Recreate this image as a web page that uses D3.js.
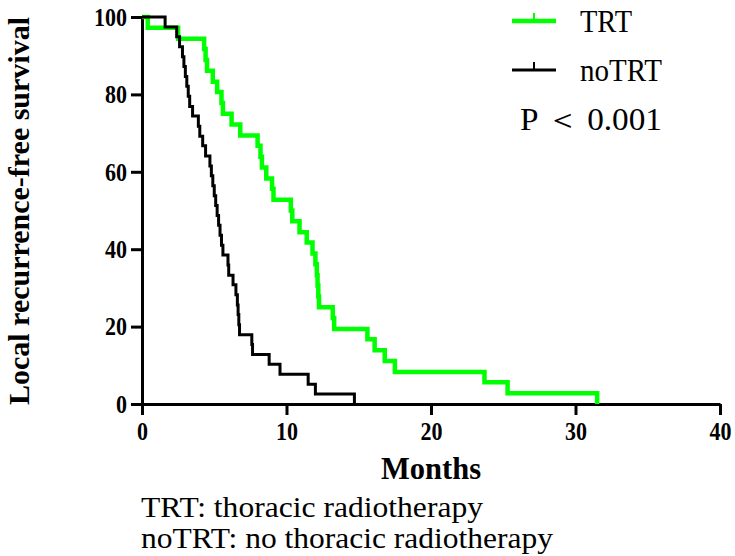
<!DOCTYPE html>
<html>
<head>
<meta charset="utf-8">
<script src="https://cdn.jsdelivr.net/npm/d3@7"></script>
<style>
  body { margin: 0; background: #fff; }
  svg text { font-family: "Liberation Serif", "Times New Roman", Tinos, serif; }
</style>
</head>
<body>
<svg id="chart" width="735" height="556"></svg>
<script>
// Kaplan-Meier steps: time of event (months) and survival (%) after it
const trtTimes = [0, 0.4, 2.5, 4.3, 4.4, 4.5, 4.9, 5.2, 5.5, 5.6, 6.2, 6.8, 8.0, 8.2, 8.3, 8.6, 9.0, 9.1,
  10.3, 10.4, 10.9, 11.4, 11.8, 12.0, 12.1, 12.15, 12.2, 12.25, 13.2, 13.3, 15.6, 16.1, 16.8, 17.5, 23.7, 25.3, 31.5];
const trtSurv = [100, 97.2, 94.4, 91.7, 88.9, 86.1, 83.3, 80.6, 77.8, 75.0, 72.2, 69.4, 66.7, 63.9, 61.1, 58.3, 55.6, 52.8,
  50.0, 47.2, 44.4, 41.7, 38.9, 36.1, 33.3, 30.6, 27.8, 25.0, 22.2, 19.4, 16.7, 13.9, 11.1, 8.3, 5.6, 2.8, 0];

const noTrtTimes = [0, 1.6, 2.4, 2.6, 2.8, 2.9, 3.0, 3.1, 3.2, 3.3, 3.5, 3.9, 4.0, 4.2, 4.4, 4.7, 4.8, 4.9, 5.0, 5.1,
  5.2, 5.3, 5.4, 5.5, 5.6, 5.95, 6.0, 6.3, 6.5, 6.6, 6.65, 6.7, 6.75, 7.6, 7.65, 8.8, 9.55, 11.5, 12.0, 14.7];
const noTrtSurv = [100, 97.4, 94.9, 92.3, 89.7, 87.2, 84.6, 82.1, 79.5, 76.9, 74.4, 71.8, 69.2, 66.7, 64.1, 61.5, 59.0, 56.4, 53.8, 51.3,
  48.7, 46.2, 43.6, 41.0, 38.5, 35.9, 33.3, 30.8, 28.2, 25.6, 23.1, 20.5, 17.9, 15.4, 12.8, 10.3, 7.7, 5.1, 2.6, 0];

const xTicks = [0, 10, 20, 30, 40];
const yTicks = [0, 20, 40, 60, 80, 100];

const svg = d3.select("#chart");
const serif = "'Liberation Serif', 'Times New Roman', Tinos, serif";

const x = d3.scaleLinear().domain([0, 40]).range([142, 720]);
const y = d3.scaleLinear().domain([0, 100]).range([404, 17]);

var line = d3.line()
    .x(d => x(d[0]))
    .y(d => y(d[1]))
    .curve(d3.curveStepAfter);

// axes
const xAxis = svg.append("g")
    .attr("transform", "translate(0," + y(0) + ")")
    .call(d3.axisBottom(x).tickValues(xTicks).tickSize(11).tickSizeOuter(0).tickPadding(7));

const yAxis = svg.append("g")
    .attr("transform", "translate(" + x(0) + ",0)")
    .call(d3.axisLeft(y).tickValues(yTicks).tickSize(11).tickSizeOuter(0).tickPadding(4));

[xAxis, yAxis].forEach(g => {
  g.select(".domain").attr("stroke-width", 3).attr("stroke", "#000");
  g.selectAll(".tick line").attr("stroke-width", 3).attr("stroke", "#000");
  // bold, slightly condensed digits like the original
  g.selectAll(".tick text")
      .attr("font-family", serif)
      .attr("font-weight", "bold")
      .attr("font-size", 26)
      .attr("fill", "#000")
      .attr("textLength", d => String(d).length * 11)
      .attr("lengthAdjust", "spacingAndGlyphs");
});

// curves
svg.append("path")
    .datum(d3.zip(trtTimes, trtSurv))
    .attr("fill", "none")
    .attr("stroke", "#00ff00")
    .attr("stroke-width", 4.5)
    .attr("d", line);

svg.append("path")
    .datum(d3.zip(noTrtTimes, noTrtSurv))
    .attr("fill", "none")
    .attr("stroke", "#000")
    .attr("stroke-width", 3)
    .attr("d", line);

// axis titles
svg.append("text")
    .attr("transform", "translate(29,211) rotate(-90)")
    .attr("text-anchor", "middle")
    .attr("font-weight", "bold")
    .attr("font-size", 30)
    .attr("textLength", 388)
    .attr("lengthAdjust", "spacingAndGlyphs")
    .text("Local recurrence-free survival");

svg.append("text")
    .attr("x", 431)
    .attr("y", 479)
    .attr("text-anchor", "middle")
    .attr("font-weight", "bold")
    .attr("font-size", 32)
    .attr("textLength", 100)
    .attr("lengthAdjust", "spacingAndGlyphs")
    .text("Months");

// legend
const legend = [
  {name: "TRT", color: "#00ff00", width: 4.5, y: 21, len: 52},
  {name: "noTRT", color: "#000", width: 3, y: 70, len: 82}
];
const lg = svg.append("g").selectAll("g").data(legend).enter().append("g");
lg.append("line")
    .attr("x1", 512).attr("x2", 556)
    .attr("y1", d => d.y).attr("y2", d => d.y)
    .attr("stroke", d => d.color).attr("stroke-width", d => d.width);
lg.append("line")
    .attr("x1", 534).attr("x2", 534)
    .attr("y1", d => d.y - 8).attr("y2", d => d.y)
    .attr("stroke", d => d.color).attr("stroke-width", 2);
lg.append("text")
    .attr("x", 580)
    .attr("y", d => d.y + 11)
    .attr("font-size", 31)
    .attr("textLength", d => d.len)
    .attr("lengthAdjust", "spacingAndGlyphs")
    .text(d => d.name);

svg.append("text")
    .attr("x", 520)
    .attr("y", 130)
    .attr("font-size", 32)
    .attr("textLength", 142)
    .attr("lengthAdjust", "spacingAndGlyphs")
    .text("P ＜ 0.001");

// footnote
svg.append("text")
    .attr("x", 141).attr("y", 517)
    .attr("font-size", 29)
    .attr("textLength", 342)
    .attr("lengthAdjust", "spacingAndGlyphs")
    .text("TRT: thoracic radiotherapy");

svg.append("text")
    .attr("x", 141).attr("y", 548)
    .attr("font-size", 29)
    .attr("textLength", 412)
    .attr("lengthAdjust", "spacingAndGlyphs")
    .text("noTRT: no thoracic radiotherapy");
</script>
</body>
</html>
